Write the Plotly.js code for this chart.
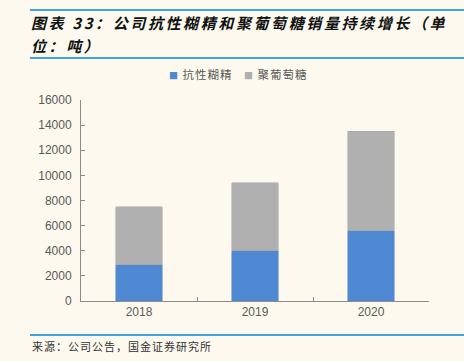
<!DOCTYPE html>
<html><head><meta charset="utf-8">
<script src="https://cdn.plot.ly/plotly-3.0.1.min.js"></script>
<style>html,body{margin:0;padding:0;background:#FDF9EF;}</style>
</head><body>
<div id="chart" style="width:464px;height:361px;"></div>
<script>
const years = ['2018', '2019', '2020'];
const resistantDextrin = [2900, 4000, 5600];
const polydextrose = [4600, 5400, 7900];
const seriesNames = ['抗性糊精', '聚葡萄糖'];
const titleLine1 = '图表 33：公司抗性糊精和聚葡萄糖销量持续增长（单';
const titleLine2 = '位：吨）';
const sourceText = '来源：公司公告，国金证券研究所';

const bg = '#FDF9EF';
const cjk = '"Noto Sans CJK SC", "Noto Sans", sans-serif';
const colors = ['#5089D3', '#B0B0B0'];

const traces = [
  {type: 'bar', name: seriesNames[0], x: years, y: resistantDextrin,
   marker: {color: colors[0], line: {color: '#4a7fc4', width: 0.5}}},
  {type: 'bar', name: seriesNames[1], x: years, y: polydextrose,
   marker: {color: colors[1], line: {color: '#a0a0a0', width: 0.5}}}
];

const legendX = [(170 - 81) / 348, (245 - 81) / 348];
const legendAnns = seriesNames.map(function (n, i) {
  return {xref: 'paper', yref: 'paper', x: legendX[i], y: (301 - 74) / 201, xanchor: 'left', yanchor: 'middle',
          text: '<span style="color:' + colors[i] + ';font-size:9px">■</span> ' + n, showarrow: false,
          font: {family: cjk, size: 11.5, color: '#595959'}};
});

const layout = {
  width: 464, height: 361,
  paper_bgcolor: bg, plot_bgcolor: bg,
  margin: {l: 81, r: 35, t: 100, b: 60},
  barmode: 'stack',
  bargap: 0.6,
  showlegend: false,
  xaxis: {type: 'category', showline: true, linecolor: '#8c8c8c', linewidth: 1,
          ticks: 'inside', tickson: 'boundaries', ticklen: 4, tickcolor: '#8c8c8c',
          tickfont: {family: 'Liberation Sans, Arial, sans-serif', size: 12, color: '#595959'},
          showgrid: false, zeroline: false},
  yaxis: {range: [0, 16000], dtick: 2000, tickformat: 'd', showline: true, linecolor: '#8c8c8c', linewidth: 1,
          ticks: 'inside', ticklen: 4, tickcolor: '#8c8c8c', showgrid: false, zeroline: false,
          tickfont: {family: 'Liberation Sans, Arial, sans-serif', size: 12, color: '#595959'},
          ticklabelstandoff: 6},
  shapes: [
    {type: 'line', xref: 'paper', yref: 'paper', x0: -0.1466, x1: 1.11, y0: 1.4478, y1: 1.4478,
     line: {color: '#3DA5DF', width: 2}},
    {type: 'line', xref: 'paper', yref: 'paper', x0: -0.1466, x1: 1.11, y0: 1.209, y1: 1.209,
     line: {color: '#3DA5DF', width: 2}},
    {type: 'line', xref: 'paper', yref: 'paper', x0: -0.1466, x1: 1.11, y0: -0.169, y1: -0.169,
     line: {color: '#3DA5DF', width: 2}}
  ],
  annotations: [
    {xref: 'paper', yref: 'paper', x: -0.148, y: (301 - 22) / 201, xanchor: 'left', yanchor: 'middle',
     text: '<b><i>' + titleLine1 + '</i></b>', showarrow: false, align: 'left',
     font: {family: cjk, size: 15, color: '#111111'}},
    {xref: 'paper', yref: 'paper', x: -0.148, y: (301 - 45) / 201, xanchor: 'left', yanchor: 'middle',
     text: '<b><i>' + titleLine2 + '</i></b>', showarrow: false, align: 'left',
     font: {family: cjk, size: 15, color: '#111111'}},
    {xref: 'paper', yref: 'paper', x: -0.1466, y: -0.225, xanchor: 'left', yanchor: 'middle',
     text: sourceText, showarrow: false, align: 'left',
     font: {family: cjk, size: 11, color: '#333333'}}
  ].concat(legendAnns)
};

Plotly.newPlot('chart', traces, layout, {displayModeBar: false, staticPlot: true}).then(function (gd) {
  const anns = gd.querySelectorAll('.annotation-text');
  if (anns[0]) anns[0].style.letterSpacing = '2.6px';
  if (anns[1]) anns[1].style.letterSpacing = '2.6px';
  if (anns[2]) anns[2].style.letterSpacing = '1px';
  if (anns[3]) anns[3].style.letterSpacing = '1px';
  if (anns[4]) anns[4].style.letterSpacing = '1px';
});
</script>
</body></html>
